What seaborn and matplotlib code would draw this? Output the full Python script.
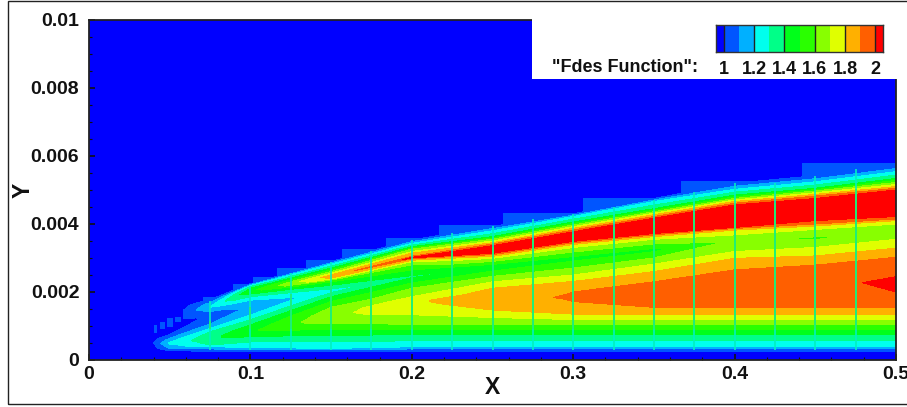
import matplotlib
matplotlib.use("Agg")
import matplotlib.pyplot as plt
import matplotlib.ticker as ticker
from matplotlib.colors import ListedColormap, BoundaryNorm
from matplotlib.patches import Rectangle
import numpy as np
import seaborn as sns

# mesh stations along X, each with the same 27 rows (Y in units of 1e-3)
stations = [0.0, 0.04, 0.05, 0.075, 0.1, 0.15, 0.2, 0.25, 0.3, 0.35, 0.4, 0.45, 0.5]

y_000 = [0, .27, .34, .40, .45, .47, .48, .49, .50, .52, .58, .64, .75, 1.0, 1.1, 1.15, 1.2, 1.25, 1.3, 1.35, 1.4, 1.45, 1.5, 1.55, 1.6, 1.7, 10]
f_000 = [.9, .9, .9, .9, .9, .9, .9, .9, .9, .9, .9, .9, .9, .9, .9, .9, .9, .9, .9, .9, .9, .9, .9, .9, .9, .9, .9]
y_040 = [0, .27, .34, .40, .45, .47, .48, .49, .50, .52, .58, .64, .75, 1.0, 1.1, 1.15, 1.2, 1.25, 1.3, 1.35, 1.4, 1.45, 1.5, 1.55, 1.6, 1.7, 10]
f_040 = [.9, .94, .96, .97, .98, .99, .995, 1.0, .995, .99, .97, .95, .93, .9, .9, .9, .9, .9, .9, .9, .9, .9, .9, .9, .9, .9, .9]
y_050 = [0, .27, .34, .40, .45, .47, .48, .49, .50, .52, .58, .64, .75, 1.0, 1.1, 1.15, 1.2, 1.25, 1.3, 1.35, 1.4, 1.45, 1.5, 1.55, 1.6, 1.7, 10]
f_050 = [.9, 1, 1.1, 1.15, 1.18, 1.2, 1.21, 1.22, 1.21, 1.2, 1.15, 1.1, 1, .92, .9, .9, .9, .9, .9, .9, .9, .9, .9, .9, .9, .9, .9]
y_075 = [0, .26, .39, .44, .52, .60, .62, .64, .66, .72, .83, .93, 1.06, 1.27, 1.36, 1.40, 1.47, 1.51, 1.55, 1.59, 1.62, 1.64, 1.67, 1.70, 1.72, 1.78, 10]
f_075 = [.9, 1, 1.2, 1.3, 1.34, 1.36, 1.37, 1.37, 1.37, 1.35, 1.3, 1.2, 1.1, 1.03, 1.06, 1.08, 1.13, 1.16, 1.2, 1.18, 1.16, 1.14, 1.12, 1.08, 1.05, 1, .9]
y_100 = [0, .25, .37, .69, .76, .80, .82, .84, .87, .95, 1.03, 1.18, 1.32, 1.55, 1.76, 1.86, 1.94, 2.0, 2.04, 2.08, 2.11, 2.14, 2.16, 2.18, 2.19, 2.24, 10]
f_100 = [.9, 1, 1.2, 1.4, 1.45, 1.47, 1.48, 1.48, 1.47, 1.44, 1.4, 1.3, 1.2, 1.12, 1.2, 1.3, 1.4, 1.45, 1.47, 1.43, 1.4, 1.33, 1.3, 1.25, 1.2, 1, .9]
y_150 = [0, .26, .34, .73, 1.08, 1.18, 1.22, 1.27, 1.32, 1.40, 1.55, 1.72, 1.86, 2.04, 2.2, 2.30, 2.35, 2.41, 2.47, 2.50, 2.55, 2.60, 2.65, 2.70, 2.82, 2.90, 10]
f_150 = [.9, 1, 1.2, 1.4, 1.6, 1.65, 1.66, 1.67, 1.66, 1.65, 1.6, 1.5, 1.4, 1.25, 1.4, 1.5, 1.6, 1.8, 1.85, 1.8, 1.7, 1.6, 1.5, 1.4, 1.2, 1, .9]
y_200 = [0, .26, .39, .74, 1.05, 1.5, 1.65, 1.70, 1.72, 1.74, 1.80, 1.86, 2.11, 2.45, 2.65, 2.80, 2.89, 2.98, 3.01, 3.05, 3.14, 3.19, 3.26, 3.33, 3.43, 3.53, 10]
f_200 = [.9, 1, 1.2, 1.4, 1.6, 1.76, 1.77, 1.78, 1.78, 1.78, 1.73, 1.7, 1.6, 1.38, 1.5, 1.6, 1.7, 1.9, 2.02, 1.9, 1.8, 1.7, 1.6, 1.4, 1.2, 1, .9]
y_250 = [0, .26, .39, .74, 1.03, 1.47, 1.6, 1.7, 1.78, 1.86, 1.98, 2.11, 2.3, 2.74, 2.99, 3.05, 3.10, 3.14, 3.25, 3.36, 3.41, 3.45, 3.55, 3.63, 3.80, 3.93, 10]
f_250 = [.9, 1, 1.2, 1.4, 1.6, 1.8, 1.84, 1.86, 1.87, 1.86, 1.84, 1.8, 1.7, 1.42, 1.7, 1.8, 1.9, 2.0, 2.08, 2.0, 1.9, 1.8, 1.6, 1.4, 1.2, 1, .9]
y_300 = [0, .26, .39, .74, 1.03, 1.35, 1.72, 1.8, 1.86, 1.92, 2.0, 2.31, 2.5, 2.99, 3.31, 3.40, 3.45, 3.49, 3.63, 3.77, 3.82, 3.87, 3.97, 4.06, 4.22, 4.30, 10]
f_300 = [.9, 1, 1.2, 1.4, 1.6, 1.8, 1.9, 1.905, 1.91, 1.905, 1.9, 1.8, 1.7, 1.46, 1.7, 1.8, 1.9, 2.0, 2.1, 2.0, 1.9, 1.8, 1.6, 1.4, 1.2, 1, .9]
y_350 = [0, .26, .39, .74, 1.03, 1.35, 1.55, 1.8, 2.0, 2.15, 2.3, 2.6, 2.82, 3.24, 3.55, 3.63, 3.68, 3.72, 3.96, 4.17, 4.22, 4.27, 4.36, 4.45, 4.66, 4.75, 10]
f_350 = [.9, 1, 1.2, 1.4, 1.6, 1.8, 1.9, 1.91, 1.92, 1.91, 1.9, 1.8, 1.7, 1.47, 1.7, 1.8, 1.9, 2.0, 2.1, 2.0, 1.9, 1.8, 1.6, 1.4, 1.2, 1, .9]
y_400 = [0, .26, .39, .74, 1.03, 1.35, 1.55, 1.9, 2.1, 2.3, 2.65, 2.99, 3.19, 3.5, 3.68, 3.82, 3.87, 3.90, 4.25, 4.56, 4.61, 4.66, 4.75, 4.85, 5.02, 5.2, 10]
f_400 = [.9, 1, 1.2, 1.4, 1.6, 1.8, 1.9, 1.91, 1.92, 1.91, 1.9, 1.8, 1.7, 1.62, 1.7, 1.8, 1.9, 2.0, 2.1, 2.0, 1.9, 1.8, 1.6, 1.4, 1.2, 1, .9]
y_450 = [0, .26, .39, .74, 1.03, 1.35, 1.55, 2.3, 2.35, 2.4, 2.79, 3.06, 3.31, 3.58, 3.84, 3.94, 4.0, 4.10, 4.42, 4.75, 4.82, 4.87, 4.97, 5.05, 5.24, 5.42, 10]
f_450 = [.9, 1, 1.2, 1.4, 1.6, 1.8, 1.9, 1.92, 1.93, 1.92, 1.9, 1.8, 1.7, 1.58, 1.7, 1.8, 1.9, 2.0, 2.1, 2.0, 1.9, 1.8, 1.6, 1.4, 1.2, 1, .9]
y_500 = [0, .26, .39, .74, 1.03, 1.35, 1.55, 2.0, 2.22, 2.45, 3.02, 3.29, 3.55, 3.77, 4.0, 4.10, 4.15, 4.22, 4.60, 5.0, 5.05, 5.10, 5.22, 5.34, 5.54, 5.72, 10]
f_500 = [.9, 1, 1.2, 1.4, 1.6, 1.8, 1.9, 2.0, 2.05, 2.0, 1.9, 1.8, 1.7, 1.65, 1.7, 1.8, 1.9, 2.0, 2.1, 2.0, 1.9, 1.8, 1.6, 1.4, 1.2, 1, .9]

# refined mesh blocks around the layer edge (lighter blue, Y in 1e-3)
block_left = [.4418, .3668, .306, .2565, .2169, .184, .1568, .1345, .1165, .1016, .0892, .0706, .0657, .0583, .0533, .0483, .044, .0403]
block_right = [.5, .4418, .3668, .306, .2565, .2169, .184, .1568, .1345, .1165, .1016, .0892, .0706, .0657, .057, .052, .047, .0421]
block_top = [5.785, 5.256, 4.774, 4.332, 3.97, 3.597, 3.265, 2.94, 2.71, 2.45, 2.235, 1.85, 1.62, 1.49, 1.27, 1.24, 1.13, 1.03]
block_low = [5.3, 4.8, 4.3, 3.9, 3.5, 3.2, 2.9, 2.6, 2.3, 2.1, 1.9, 1.45, 1.32, 1.22, 1.13, .98, .9, .78]

# block seams show as thin vertical streaks
seam_x = [.075, .1, .125, .15, .175, .2, .225, .25, .275, .3, .325, .35, .375, .4, .425, .45, .475]
seam_top = [1.75, 2.17, 2.55, 2.88, 3.2, 3.52, 3.75, 3.93, 4.15, 4.3, 4.5, 4.7, 4.95, 5.2, 5.22, 5.42, 5.62]

levels = [1.0, 1.1, 1.2, 1.3, 1.4, 1.5, 1.6, 1.7, 1.8, 1.9, 2.0, 2.6]
band_colors = ["#0055ff", "#00b0ff", "#00ffee", "#00ff88", "#00ff1a", "#2aff00",
               "#88ff00", "#e0ff00", "#ffb000", "#ff5f00", "#ff0000"]
legend_scale = [.975, 1.025, 1.075, 1.125, 1.175, 1.225, 1.275, 1.325, 1.375, 1.425, 1.475,
                1.525, 1.575, 1.625, 1.675, 1.725, 1.775, 1.825, 1.875, 1.925, 1.975, 2.025]
legend_ticks = [1, 1.2, 1.4, 1.6, 1.8, 2]
legend_labels = ["1", "1.2", "1.4", "1.6", "1.8", "2"]
x_ticks = [0, 0.1, 0.2, 0.3, 0.4, 0.5]
x_labels = ["0", "0.1", "0.2", "0.3", "0.4", "0.5"]
y_ticks = [0, 0.002, 0.004, 0.006, 0.008, 0.01]
y_labels = ["0", "0.002", "0.004", "0.006", "0.008", "0.01"]

sns.set_theme(style="ticks")
plt.rcParams["font.family"] = ["Liberation Sans", "DejaVu Sans"]
plt.rcParams["font.weight"] = "bold"

W, H = 907, 407
fig = plt.figure(figsize=(W / 100, H / 100), dpi=100)
ax = fig.add_axes([89 / W, (H - 360) / H, (896 - 89) / W, (360 - 20) / H])
ax.set_facecolor("#0000ff")

Y = np.array([y_000, y_040, y_050, y_075, y_100, y_150, y_200, y_250, y_300, y_350, y_400, y_450, y_500]) * 1e-3
F = np.array([f_000, f_040, f_050, f_075, f_100, f_150, f_200, f_250, f_300, f_350, f_400, f_450, f_500])
X = np.repeat(np.array(stations)[:, None], Y.shape[1], axis=1)

palette = sns.color_palette(band_colors)
ax.bar(block_left, (np.array(block_top) - np.array(block_low)) * 1e-3,
       width=np.array(block_right) - np.array(block_left),
       bottom=np.array(block_low) * 1e-3, align="edge", color=palette[0], linewidth=0, zorder=1)
ax.contourf(X, Y, F, levels=levels, colors=palette, antialiased=False, zorder=2)

# streaks: cyan near the wall and at the edge, green in between
seam_top_arr = np.array(seam_top) * 1e-3
ax.vlines(seam_x, 0.0003, seam_top_arr, color="#00f0c0", linewidth=1.2, zorder=3)
ax.vlines(seam_x, 0.0009, seam_top_arr - 0.0006, color="#20f070", linewidth=1.2, zorder=3)

ax.set_xlim(0, 0.5)
ax.set_ylim(0, 0.01)
ax.set_xticks(x_ticks, x_labels)
ax.set_yticks(y_ticks, y_labels)
ax.xaxis.set_minor_locator(ticker.MultipleLocator(0.02))
ax.yaxis.set_minor_locator(ticker.MultipleLocator(0.0005))
ax.tick_params(which="major", direction="in", length=4.5, width=1.2, color="#111111", labelsize=14, labelcolor="#111111")
ax.tick_params(which="minor", direction="in", length=2.2, width=0.8, color="#111111")
ax.tick_params(axis="x", which="major", pad=4)
ax.tick_params(axis="y", which="major", pad=7)
ax.set_xlabel("X", fontsize=16.5, fontweight="bold", color="#111111")
ax.set_ylabel("Y", fontsize=16.5, fontweight="bold", color="#111111")
ax.xaxis.set_label_coords((492 - 89) / 807, -0.047)
ax.yaxis.set_label_coords(-0.0669, 0.5)
for s in ax.spines.values():
    s.set_linewidth(1.3)
    s.set_color("#222222")
    s.set_visible(True)

# white panel behind the legend hides the corner of the frame
ax.add_patch(Rectangle((532 / W, (H - 79) / H), (W - 532) / W, 79 / H, transform=fig.transFigure,
                       facecolor="white", edgecolor="none", clip_on=False, zorder=5))

cax = fig.add_axes([716 / W, (H - 51.7) / H, (883 - 716) / W, 27 / H], zorder=6)
sns.heatmap([legend_scale], ax=cax, cbar=False, linewidths=0,
            cmap=ListedColormap(["#0000ff"] + band_colors),
            norm=BoundaryNorm([0.9] + levels, 12))
for t in legend_ticks:
    cax.axvline((t - 0.95) / 0.05, color="#222222", linewidth=1)
cax.set_xticks([(t - 0.95) / 0.05 for t in legend_ticks], legend_labels, rotation=0)
cax.set_yticks([])
cax.set_xlabel("")
cax.tick_params(axis="x", length=0, pad=7, labelsize=13, labelcolor="#111111")
for s in cax.spines.values():
    s.set_visible(True)
    s.set_linewidth(1)
    s.set_color("#333333")

fig.text(552 / W, (H - 68) / H, '"Fdes Function":', fontsize=13, fontweight="bold",
         color="#111111", va="center", ha="left", zorder=7)

# page frame, its right side falls off the picture
fig.add_artist(Rectangle((7.5 / W, (H - 404) / H), (W + 5) / W, 403 / H, transform=fig.transFigure,
                         facecolor="none", edgecolor="#222222", linewidth=1))

fig.savefig("out.png", dpi=100)
